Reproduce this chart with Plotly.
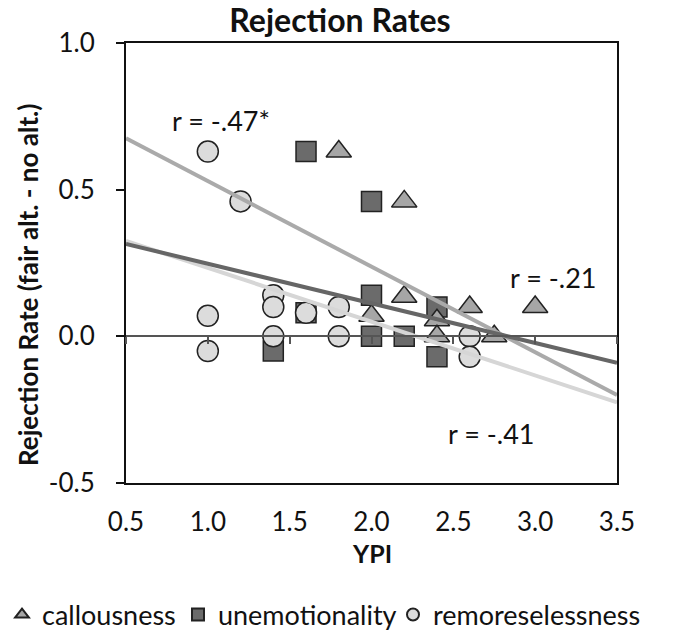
import plotly.graph_objects as go

# ---- data ----
callous_x = [1.8, 2.2, 2.2, 2.0, 2.4, 2.4, 2.6, 2.75, 3.0]
callous_y = [0.63, 0.46, 0.135, 0.07, 0.055, 0.0, 0.10, 0.0, 0.10]

unemo_x = [1.6, 2.0, 1.6, 1.4, 2.0, 2.0, 2.2, 2.4, 2.4]
unemo_y = [0.63, 0.46, 0.08, -0.05, 0.14, 0.0, 0.0, 0.10, -0.07]

remorse_x = [1.0, 1.2, 1.0, 1.0, 1.4, 1.4, 1.4, 1.6, 1.8, 1.8, 2.6, 2.6]
remorse_y = [0.63, 0.46, 0.07, -0.05, 0.14, 0.10, 0.0, 0.08, 0.10, 0.0, 0.0, -0.07]

trend_x = [0.5, 3.5]
callous_trend = [0.675, -0.20]
unemo_trend = [0.315, -0.09]
remorse_trend = [0.325, -0.225]

x_ticks = [0.5, 1.0, 1.5, 2.0, 2.5, 3.0, 3.5]
x_ticktext = ["0.5", "1.0", "1.5", "2.0", "2.5", "3.0", "3.5"]
y_ticks = [-0.5, 0.0, 0.5, 1.0]
y_ticktext = ["-0.5", "0.0", "0.5", "1.0"]

r_labels = ["r = -.47*", "r = -.21", "r = -.41"]
r_x = [1.08, 3.11, 2.73]
r_y = [0.737, 0.20, -0.33]

FONT = "Lato"
C_CALL = "#a6a6a6"
C_UNEMO = "#6b6b6b"
C_REM = "#dcdcdc"
W, H = 680, 634
L, R, T, B = 126, 63, 43, 151
PW, PH = W - L - R, H - T - B

fig = go.Figure()

fig.add_trace(go.Scatter(
    x=unemo_x, y=unemo_y, mode="markers", name="unemotionality", legend="legend2",
    marker=dict(symbol="square", size=20, color=C_UNEMO, line=dict(color="#222", width=1.5)),
))
fig.add_trace(go.Scatter(
    x=callous_x, y=callous_y, mode="markers", name="callousness", legend="legend",
    marker=dict(symbol="triangle-up", size=22, color=C_CALL, line=dict(color="#222", width=1.5)),
))
fig.add_trace(go.Scatter(
    x=remorse_x, y=remorse_y, mode="markers", name="remoreselessness", legend="legend3",
    marker=dict(symbol="circle", size=21, color=C_REM, line=dict(color="#222", width=1.5)),
))

# trend lines
fig.add_trace(go.Scatter(x=trend_x, y=callous_trend, mode="lines", showlegend=False,
                         line=dict(color="#aaaaaa", width=4)))
fig.add_trace(go.Scatter(x=trend_x, y=remorse_trend, mode="lines", showlegend=False,
                         line=dict(color="#d6d6d6", width=4)))
fig.add_trace(go.Scatter(x=trend_x, y=unemo_trend, mode="lines", showlegend=False,
                         line=dict(color="#666666", width=4)))

for t, xx, yy in zip(r_labels, r_x, r_y):
    fig.add_annotation(x=xx, y=yy, text=t, showarrow=False,
                       font=dict(family=FONT, size=27, color="#111"))

# y-axis title as rotated text
fig.add_annotation(x=(28 - L) / PW, y=(H - B - 285) / PH, xref="paper", yref="paper",
                   text="<b>Rejection Rate (fair alt. - no alt.)</b>",
                   textangle=-90, showarrow=False, xanchor="center", yanchor="middle",
                   font=dict(family=FONT, size=26, color="#111"))
# x-axis title
fig.add_annotation(x=0.5, y=(H - B - 553) / PH, xref="paper", yref="paper",
                   text="<b>YPI</b>", showarrow=False, xanchor="center", yanchor="middle",
                   font=dict(family=FONT, size=25, color="#111"))

def leg(xpx):
    return dict(orientation="h", x=xpx / W, xref="container", xanchor="left",
                y=(H - B - 615) / PH, yanchor="middle", itemsizing="constant",
                font=dict(family=FONT, size=27, color="#111"),
                itemwidth=30, bgcolor="rgba(0,0,0,0)", borderwidth=0)

fig.update_layout(
    width=W, height=H,
    margin=dict(l=L, r=R, t=T, b=B, autoexpand=False),
    paper_bgcolor="white", plot_bgcolor="white",
    font=dict(family=FONT, color="#111"),
    title=dict(text="<b>Rejection Rates</b>", x=340 / W, xref="container", xanchor="center",
               y=1 - 21 / H, yref="container", yanchor="middle",
               font=dict(family=FONT, size=32, color="#111")),
    showlegend=True,
    legend=leg(2), legend2=leg(178), legend3=leg(393),
    xaxis=dict(range=[0.5, 3.5], tickvals=x_ticks, ticktext=x_ticktext,
               showgrid=False, zeroline=False, showline=True, linecolor="#111", linewidth=2,
               mirror=True, ticks="", ticklabelstandoff=15, tickangle=0,
               tickfont=dict(family=FONT, size=26, color="#111")),
    xaxis2=dict(range=[0.5, 3.5], overlaying="x", anchor="free", position=1 / 3,
                tickvals=x_ticks, showticklabels=False, showgrid=False, zeroline=False,
                showline=True, linecolor="#555", linewidth=1.5,
                ticks="outside", ticklen=7, tickcolor="#555", tickwidth=1.5),
    yaxis=dict(range=[-0.5, 1.0], tickvals=y_ticks, ticktext=y_ticktext,
               showgrid=False, zeroline=False, showline=True, linecolor="#111", linewidth=2,
               mirror=True, ticks="outside", ticklen=8, tickcolor="#111", tickwidth=1.5,
               ticklabelstandoff=16,
               tickfont=dict(family=FONT, size=26, color="#111")),
)

# a dummy trace on xaxis2 so the zero-crossing axis is drawn
fig.add_trace(go.Scatter(x=[None], y=[None], xaxis="x2", showlegend=False, hoverinfo="skip"))

fig.write_html("out.html", config={"displayModeBar": False},
               post_script="document.body.style.margin='0';document.body.style.padding='0';")
